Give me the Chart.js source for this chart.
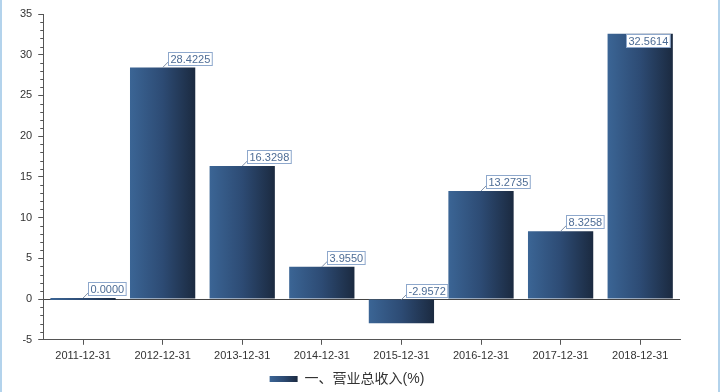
<!DOCTYPE html>
<html>
<head>
<meta charset="utf-8">
<script src="https://cdn.jsdelivr.net/npm/chart.js@4/dist/chart.umd.min.js"></script>
<style>
    html, body { margin: 0; padding: 0; background: #fff; }
    #wrap { position: relative; width: 720px; height: 392px; }
    .edge { position: absolute; top: 0; width: 2px; height: 392px; background: #b3d3ec; }
</style>
</head>
<body>
<div id="wrap">
    <canvas id="chart" width="720" height="392"></canvas>
    <div class="edge" style="left:0"></div>
    <div class="edge" style="left:718px"></div>
</div>
<script>
// data
const categories = ['2011-12-31', '2012-12-31', '2013-12-31', '2014-12-31', '2015-12-31', '2016-12-31', '2017-12-31', '2018-12-31'];
const revenueGrowth = [0.0000, 28.4225, 16.3298, 3.9550, -2.9572, 13.2735, 8.3258, 32.5614];
const seriesName = '一、营业总收入(%)';
const yMin = -5, yMax = 35, yStep = 5;

const BAR_PCT = 0.82;
const FONT = '"Liberation Sans", Arial, "Noto Sans CJK SC", sans-serif';

function barGradient(c, x0, x1) {
    const g = c.createLinearGradient(x0, 0, x1, 0);
    g.addColorStop(0, '#3b6595');
    g.addColorStop(0.5, '#2d4b74');
    g.addColorStop(1, '#1b2a40');
    return g;
}

/**
 * Minor ticks on the y axis, every 1 unit
 */
const minorTicks = {
    id: 'minorTicks',
    afterDraw(chart) {
        const y = chart.scales.y, c = chart.ctx;
        const ax = y.right;
        c.save();
        c.strokeStyle = '#555';
        c.lineWidth = 1;
        for (let v = yMin; v <= yMax; v++) {
            if (v % yStep === 0) continue;
            const py = Math.round(y.getPixelForValue(v)) + 0.5;
            c.beginPath();
            c.moveTo(ax - 3, py);
            c.lineTo(ax, py);
            c.stroke();
        }
        c.restore();
    }
};

/**
 * Boxed value labels with a short leader line
 */
const boxLabels = {
    id: 'boxLabels',
    afterDatasetsDraw(chart) {
        const c = chart.ctx;
        const meta = chart.getDatasetMeta(0);
        const area = chart.chartArea;
        c.save();
        c.font = '11px ' + FONT;
        c.textBaseline = 'middle';
        meta.data.forEach((el, i) => {
            const txt = revenueGrowth[i].toFixed(4);
            const w = c.measureText(txt).width + 4;
            const h = 13;
            const topY = Math.min(el.y, el.base);
            let bx = el.x + 5, by = topY - 16, leader = true;
            if (by < area.top + 8) { bx = el.x - 14; by = topY; leader = false; }
            if (leader) {
                c.strokeStyle = '#7f8fa6';
                c.lineWidth = 1;
                c.beginPath();
                c.moveTo(el.x, topY);
                c.lineTo(bx + 1, by + h - 3);
                c.stroke();
            }
            c.fillStyle = '#fff';
            c.fillRect(Math.round(bx) + 0.5, Math.round(by) + 0.5, w, h);
            c.strokeStyle = '#8ea8cc';
            c.strokeRect(Math.round(bx) + 0.5, Math.round(by) + 0.5, w, h);
            c.fillStyle = '#4d6c95';
            c.fillText(txt, Math.round(bx) + 2.5, Math.round(by) + 0.5 + h / 2 + 0.5);
        });
        c.restore();
    }
};

/**
 * Legend swatch gets the same gradient as the bars; legend nudged down a bit
 */
const legendTweak = {
    id: 'legendTweak',
    afterLayout(chart) {
        const lg = chart.legend;
        if (!lg) return;
        lg.top += 4;
        lg.bottom += 4;
    },
    beforeDraw(chart) {
        const lg = chart.legend;
        if (!lg || !lg.legendHitBoxes.length) return;
        const hb = lg.legendHitBoxes[0];
        lg.legendItems[0].fillStyle = barGradient(chart.ctx, hb.left, hb.left + 28);
    }
};

new Chart(document.getElementById('chart'), {
    type: 'bar',
    data: {
        labels: categories,
        datasets: [{
            label: seriesName,
            data: revenueGrowth,
            backgroundColor: ctx => {
                const xs = ctx.chart.scales.x;
                if (!xs || typeof ctx.dataIndex !== 'number') return '#2d4b74';
                const cx = xs.getPixelForValue(ctx.dataIndex);
                const half = xs.width / categories.length * BAR_PCT / 2;
                if (!isFinite(cx) || !isFinite(half)) return '#2d4b74';
                return barGradient(ctx.chart.ctx, cx - half, cx + half);
            },
            borderWidth: 0,
            minBarLength: 2,
            barPercentage: BAR_PCT,
            categoryPercentage: 1
        }]
    },
    options: {
        responsive: false,
        animation: false,
        layout: { padding: { left: 14, right: 40, top: 14, bottom: 0 } },
        plugins: {
            tooltip: { enabled: false },
            legend: {
                position: 'bottom',
                labels: {
                    boxWidth: 28, boxHeight: 6, padding: 0,
                    color: '#333',
                    font: { size: 14, family: FONT }
                }
            }
        },
        scales: {
            x: {
                offset: true,
                grid: { offset: false, drawOnChartArea: false, tickLength: 5, color: '#555' },
                border: { color: '#555' },
                ticks: { color: '#333', padding: 5, maxRotation: 0, font: { size: 11, family: FONT } }
            },
            y: {
                min: yMin, max: yMax,
                grid: {
                    drawOnChartArea: true, tickLength: 5,
                    color: ctx => ctx.tick && ctx.tick.value === 0 ? '#444' : 'rgba(0,0,0,0)',
                    tickColor: '#555'
                },
                border: { color: '#555' },
                ticks: { stepSize: yStep, color: '#333', padding: 6, font: { size: 11, family: FONT } }
            }
        }
    },
    plugins: [minorTicks, boxLabels, legendTweak]
});
</script>
</body>
</html>
